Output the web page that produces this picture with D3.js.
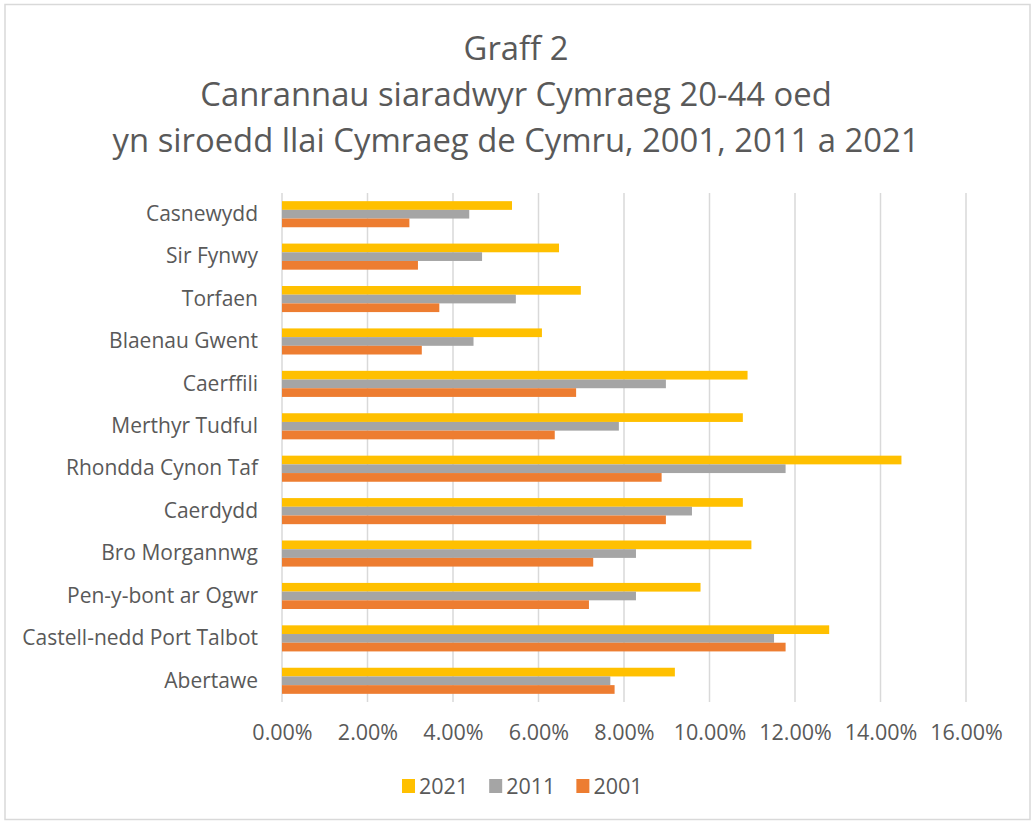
<!DOCTYPE html>
<html>
<head>
<meta charset="utf-8">
<script src="https://cdn.jsdelivr.net/npm/d3@7"></script>
<style>
  body { margin: 0; background: #fff; }
  svg text { font-family: "Open Sans", "Noto Sans", sans-serif; fill: #595959; }
</style>
</head>
<body>
<svg id="chart"></svg>
<script>
// data
const categories = ["Casnewydd", "Sir Fynwy", "Torfaen", "Blaenau Gwent", "Caerffili",
    "Merthyr Tudful", "Rhondda Cynon Taf", "Caerdydd", "Bro Morgannwg",
    "Pen-y-bont ar Ogwr", "Castell-nedd Port Talbot", "Abertawe"];
const years = ["2021", "2011", "2001"];
const values2021 = [5.38, 6.48, 6.99, 6.08, 10.89, 10.78, 14.49, 10.78, 10.98, 9.79, 12.80, 9.19];
const values2011 = [4.38, 4.68, 5.47, 4.48, 8.98, 7.88, 11.78, 9.59, 8.28, 8.28, 11.51, 7.68];
const values2001 = [2.98, 3.18, 3.68, 3.27, 6.88, 6.38, 8.88, 8.98, 7.28, 7.18, 11.78, 7.78];
const xTicks = [0, 2, 4, 6, 8, 10, 12, 14, 16];
const titleLines = ["Graff 2", "Canrannau siaradwyr Cymraeg 20-44 oed",
    "yn siroedd llai Cymraeg de Cymru, 2001, 2011 a 2021"];
const colors = { "2021": "#FFC000", "2011": "#A5A5A5", "2001": "#ED7D31" };

const seriesValues = { "2021": values2021, "2011": values2011, "2001": values2001 };
const rows = categories.map((c, i) => ({
    name: c,
    vals: years.map(y => ({ year: y, value: seriesValues[y][i] }))
}));

const width = 1032, height = 823;
const plot = { left: 282, right: 966, top: 193, bottom: 702 };

const svg = d3.select("#chart")
    .attr("width", width)
    .attr("height", height);

svg.append("rect")
    .attr("x", 5).attr("y", 4.5)
    .attr("width", 1025).attr("height", 815)
    .attr("fill", "#fff")
    .attr("stroke", "#d9d9d9")
    .attr("stroke-width", 1.5);

// title
svg.append("g").selectAll("text")
    .data(titleLines).join("text")
    .attr("x", 516)
    .attr("y", (d, i) => 60 + i * 46)
    .attr("text-anchor", "middle")
    .style("font-size", "32.8px")
    .text(d => d);

const xscale = d3.scaleLinear()
    .domain([0, 16])
    .range([plot.left, plot.right]);

const yscale = d3.scaleBand()
    .domain(categories)
    .range([plot.top, plot.bottom])
    .paddingInner(0.385)
    .paddingOuter(0.1925);

const yinner = d3.scaleBand()
    .domain(years)
    .range([0, yscale.bandwidth()]);

// gridlines
svg.append("g").selectAll("line")
    .data(xTicks).join("line")
    .attr("x1", d => xscale(d)).attr("x2", d => xscale(d))
    .attr("y1", plot.top).attr("y2", plot.bottom)
    .attr("stroke", "#d9d9d9")
    .attr("stroke-width", 1.5);

// x axis labels
const xaxis = d3.axisBottom(xscale)
    .tickValues(xTicks)
    .tickFormat(d => d.toFixed(2) + "%")
    .tickSize(0)
    .tickPadding(23);

const xaxis_group = svg.append("g")
    .attr("transform", `translate(0, ${plot.bottom})`)
    .call(xaxis);
xaxis_group.select(".domain").remove();
xaxis_group.selectAll("text")
    .style("font-size", "21.5px")
    .attr("fill", "#595959");

// category labels
const yaxis = d3.axisLeft(yscale)
    .tickSize(0)
    .tickPadding(24);
const yaxis_group = svg.append("g")
    .attr("transform", `translate(${plot.left}, 0)`)
    .call(yaxis);
yaxis_group.select(".domain").remove();
yaxis_group.selectAll("text")
    .style("font-size", "21px")
    .attr("fill", "#595959");

// bars
const groups = svg.append("g").selectAll("g")
    .data(rows).join("g")
    .attr("transform", d => `translate(0, ${yscale(d.name)})`);

groups.selectAll("rect")
    .data(d => d.vals).join("rect")
    .attr("x", xscale(0))
    .attr("y", d => yinner(d.year))
    .attr("width", d => xscale(d.value) - xscale(0))
    .attr("height", yinner.bandwidth())
    .attr("fill", d => colors[d.year]);

// legend
const legend = svg.append("g");
let lx = 402;
years.forEach(y => {
    legend.append("rect")
        .attr("x", lx).attr("y", 779)
        .attr("width", 13).attr("height", 14)
        .attr("fill", colors[y]);
    const t = legend.append("text")
        .attr("x", lx + 17).attr("y", 794)
        .style("font-size", "21.5px")
        .text(y);
    lx += 17 + t.node().getComputedTextLength() + 21;
});
</script>
</body>
</html>
